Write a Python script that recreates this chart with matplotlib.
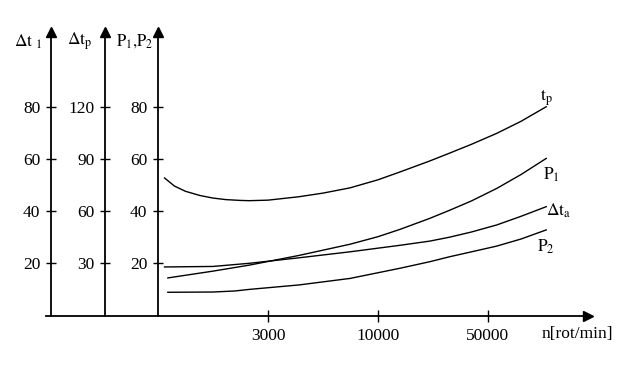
import matplotlib
matplotlib.use("Agg")
from matplotlib import pyplot as plt

plt.rcParams['font.family'] = ['Liberation Serif', 'DejaVu Serif']
plt.rcParams['mathtext.fontset'] = 'stix'

# x positions: the three ticks are equally spaced (3000, 10000, 50000)
x_ticks = [2, 3, 4]
x_tick_labels = ['3000', '10000', '50000']

# curves, read in units of the P1,P2 axis
tp_x = [1.06, 1.15, 1.25, 1.38, 1.5, 1.62, 1.75, 1.83, 2.0, 2.28, 2.5, 2.745, 3.0, 3.2, 3.47, 3.65, 3.85, 4.08, 4.3, 4.53]
tp_y = [52.7, 49.6, 47.6, 46.0, 45.0, 44.4, 44.1, 44.0, 44.2, 45.5, 46.9, 48.9, 52.0, 55.0, 59.2, 62.2, 65.6, 69.8, 74.4, 80.0]

p1_x = [1.09, 1.5, 1.83, 2.28, 2.745, 3.0, 3.2, 3.47, 3.65, 3.85, 4.08, 4.3, 4.53]
p1_y = [14.4, 17.0, 19.3, 23.0, 27.3, 30.2, 33.0, 37.2, 40.3, 43.9, 48.7, 54.0, 60.2]

dta_x = [1.06, 1.5, 1.83, 2.28, 2.745, 3.2, 3.47, 3.65, 3.85, 4.08, 4.3, 4.53]
dta_y = [18.6, 18.8, 20.0, 22.1, 24.4, 26.9, 28.5, 30.0, 32.0, 34.7, 38.0, 41.7]

p2_x = [1.09, 1.5, 1.7, 1.83, 2.28, 2.745, 3.2, 3.47, 3.65, 3.85, 4.08, 4.3, 4.53]
p2_y = [8.9, 9.0, 9.4, 10.0, 11.7, 14.2, 18.1, 20.6, 22.5, 24.4, 26.6, 29.3, 32.8]

dt1_ticks = [20, 40, 60, 80]
dtp_ticks = [30, 60, 90, 120]
p_ticks = [20, 40, 60, 80]

XLIM = (-0.436, 5.346)
YLIM = (-19.35, 120.9)
TOP = 106.7          # top of vertical axis lines (arrow base)


def style_axis(ax, xpos, ticks, scale):
    ax.set_xlim(*XLIM)
    ax.set_ylim(YLIM[0] * scale, YLIM[1] * scale)
    for s in ['top', 'right', 'bottom']:
        ax.spines[s].set_visible(False)
    ax.spines['left'].set_position(('data', xpos))
    ax.spines['left'].set_bounds(0, TOP * scale)
    ax.spines['left'].set_linewidth(1.3)
    ax.set_yticks(ticks)
    ax.set_yticklabels([str(t) for t in ticks])
    ax.tick_params(axis='y', direction='inout', length=7.5, width=1.0,
                   labelsize=12.5, pad=4)
    ax.set_xticks([])
    ax.patch.set_visible(False)
    ax.plot([xpos], [108.6 * scale], marker='^', color='black', markersize=7,
            clip_on=False)


fig = plt.figure(figsize=(6.36, 3.66), dpi=100)
ax_dt1 = fig.add_axes([0, 0, 1, 1])
ax_dtp = fig.add_axes([0, 0, 1, 1])
ax = fig.add_axes([0, 0, 1, 1])

style_axis(ax_dt1, 0.027, dt1_ticks, 1.0)
style_axis(ax_dtp, 0.52, dtp_ticks, 1.5)
style_axis(ax, 1.0, p_ticks, 1.0)

# horizontal axis
ax.spines['bottom'].set_visible(True)
ax.spines['bottom'].set_position(('data', 0))
ax.spines['bottom'].set_bounds(-0.02, 4.9)
ax.spines['bottom'].set_linewidth(1.3)
ax.set_xticks(x_ticks)
ax.set_xticklabels(x_tick_labels)
ax.tick_params(axis='x', direction='inout', length=8, width=1.0,
               labelsize=12.5, pad=5)
ax.plot([4.91], [0], marker='>', color='black', markersize=7, clip_on=False)

for xs, ys in [(tp_x, tp_y), (p1_x, p1_y), (dta_x, dta_y), (p2_x, p2_y)]:
    ax.plot(xs, ys, color='black', linewidth=1.0)

# curve labels
ax.text(4.47, 83.5, r'$\mathrm{t}_\mathrm{p}$', fontsize=12.5, ha='left', va='center')
ax.text(4.50, 54.0, r'$\mathrm{P}_1$', fontsize=12.5, ha='left', va='center')
ax.text(4.53, 40.0, r'$\Delta\mathrm{t}_\mathrm{a}$', fontsize=12.5, ha='left', va='center')
ax.text(4.45, 26.2, r'$\mathrm{P}_2$', fontsize=12.5, ha='left', va='center')

# axis titles
ax.text(-0.31, 105, r'$\Delta\mathrm{t}\ _1$', fontsize=12.5, ha='left', va='center')
ax.text(0.17, 105, r'$\Delta\mathrm{t}_\mathrm{p}$', fontsize=12.5, ha='left', va='center')
ax.text(0.62, 105, r'$\mathrm{P}_1{,}\mathrm{P}_2$', fontsize=12, ha='left', va='center')
ax.text(4.81, -6.9, 'n[rot/min]', fontsize=12.5, ha='center', va='center')

fig.savefig('out.png', dpi=100)
